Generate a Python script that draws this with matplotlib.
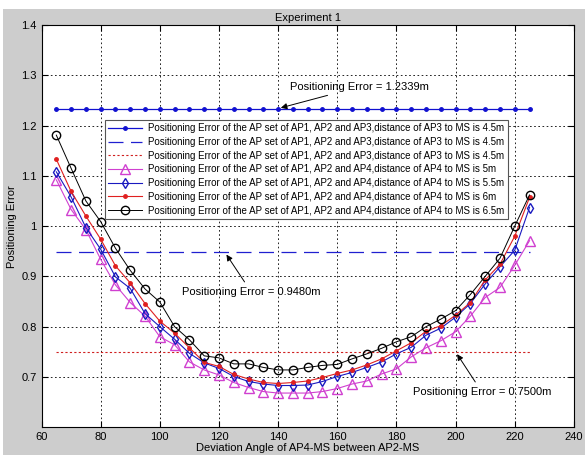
import matplotlib.pyplot as plt
from matplotlib.patches import Rectangle

angles = list(range(65, 230, 5))

err_ap3_marked = 1.2339
err_ap3_dashed = 0.9480
err_ap3_dotted = 0.7500

err_ap4_5m = [1.092, 1.033, 0.993, 0.934, 0.883, 0.848, 0.821, 0.780, 0.764, 0.730,
              0.714, 0.704, 0.689, 0.679, 0.671, 0.668, 0.668, 0.668, 0.671, 0.677,
              0.686, 0.692, 0.706, 0.716, 0.740, 0.758, 0.772, 0.790, 0.821, 0.858,
              0.878, 0.922, 0.971]
err_ap4_55m = [1.108, 1.058, 0.997, 0.954, 0.899, 0.876, 0.826, 0.800, 0.775, 0.747,
               0.728, 0.717, 0.701, 0.691, 0.686, 0.683, 0.683, 0.684, 0.691, 0.701,
               0.709, 0.719, 0.730, 0.746, 0.759, 0.783, 0.797, 0.819, 0.846, 0.885,
               0.919, 0.952, 1.037]
err_ap4_6m = [1.133, 1.069, 1.020, 0.974, 0.921, 0.887, 0.846, 0.811, 0.787, 0.758,
              0.729, 0.721, 0.705, 0.696, 0.689, 0.687, 0.689, 0.692, 0.699, 0.707,
              0.714, 0.724, 0.736, 0.752, 0.768, 0.791, 0.802, 0.823, 0.848, 0.893,
              0.924, 0.980, 1.057]
err_ap4_65m = [1.181, 1.115, 1.050, 1.009, 0.956, 0.912, 0.875, 0.849, 0.800, 0.774,
               0.742, 0.738, 0.726, 0.726, 0.719, 0.714, 0.714, 0.719, 0.723, 0.725,
               0.736, 0.746, 0.757, 0.770, 0.780, 0.800, 0.815, 0.832, 0.864, 0.900,
               0.936, 1.000, 1.062]

label_ap3 = 'Positioning Error of the AP set of AP1, AP2 and AP3,distance of AP3 to MS is 4.5m'
label_ap4 = 'Positioning Error of the AP set of AP1, AP2 and AP4,distance of AP4 to MS is {}'
dists = ['5m', '5.5m', '6m', '6.5m']

plt.rcParams['font.family'] = ['Liberation Sans', 'DejaVu Sans']
plt.rcParams['font.size'] = 8

fig = plt.figure(figsize=(5.85, 4.55), dpi=100, facecolor='#cdcdcd')
# white screenshot border on top and left
fig.patches.append(Rectangle((0, 1 - 9 / 455), 1, 9 / 455, transform=fig.transFigure,
                             facecolor='white', edgecolor='none', zorder=-1))
fig.patches.append(Rectangle((0, 0), 3 / 585, 1, transform=fig.transFigure,
                             facecolor='white', edgecolor='none', zorder=-1))

ax = fig.add_axes([0.071, 0.061, 0.91, 0.884])
ax.set_facecolor('white')

ax.plot(angles, [err_ap3_marked] * len(angles), color='#1010d0', marker='.', markersize=5,
        linewidth=0.9, label=label_ap3)
ax.plot(angles, [err_ap3_dashed] * len(angles), color='#2020d0', linestyle=(0, (12, 6)),
        linewidth=0.9, label=label_ap3)
ax.plot(angles, [err_ap3_dotted] * len(angles), color='#d02020', linestyle=(0, (2, 2)),
        linewidth=0.8, label=label_ap3)
ax.plot(angles, err_ap4_5m, color='#d040d0', marker='^', markersize=6.5, markerfacecolor='none',
        linewidth=0.8, label=label_ap4.format(dists[0]))
ax.plot(angles, err_ap4_55m, color='#1a1ac0', marker='d', markersize=5.5, markerfacecolor='none',
        linewidth=0.8, label=label_ap4.format(dists[1]))
ax.plot(angles, err_ap4_6m, color='#e02020', marker='.', markersize=5,
        linewidth=0.8, label=label_ap4.format(dists[2]))
ax.plot(angles, err_ap4_65m, color='black', marker='o', markersize=6, markerfacecolor='none',
        linewidth=0.7, label=label_ap4.format(dists[3]))

arrow = dict(arrowstyle='-|>', color='black', lw=0.7, mutation_scale=9)
ax.annotate('Positioning Error = 1.2339m', xy=(140, err_ap3_marked), xytext=(144, 1.277),
            va='center', arrowprops=arrow)
ax.annotate('Positioning Error = 0.9480m', xy=(122, err_ap3_dashed), xytext=(107.5, 0.869),
            va='center', arrowprops=arrow)
ax.annotate('Positioning Error = 0.7500m', xy=(200, err_ap3_dotted), xytext=(185.5, 0.670),
            va='center', arrowprops=arrow)

ax.set_xlim(60, 240)
ax.set_ylim(0.6, 1.4)
ax.set_xticks(range(60, 241, 20))
yt = [0.7, 0.8, 0.9, 1.0, 1.1, 1.2, 1.3, 1.4]
ax.set_yticks(yt)
ax.set_yticklabels(['%g' % v for v in yt])
ax.tick_params(direction='in', top=True, right=True, length=4, labelsize=8)
ax.grid(True, color='black', linestyle=(0, (2, 3)), linewidth=0.6)

ax.set_title('Experiment 1', fontsize=8, pad=3)
ax.set_xlabel('Deviation Angle of AP4-MS between AP2-MS', fontsize=8, labelpad=1)
ax.set_ylabel('Positioning Error', fontsize=8, labelpad=3)

leg = ax.legend(loc='upper left', bbox_to_anchor=(0.119, 0.764), fontsize=7,
                fancybox=False, framealpha=1, edgecolor='#555555',
                handlelength=3.5, borderpad=0.35, labelspacing=0.38, handletextpad=0.6,
                borderaxespad=0)
leg.get_frame().set_linewidth(0.8)

fig.savefig('out.png', dpi=100, facecolor=fig.get_facecolor())
